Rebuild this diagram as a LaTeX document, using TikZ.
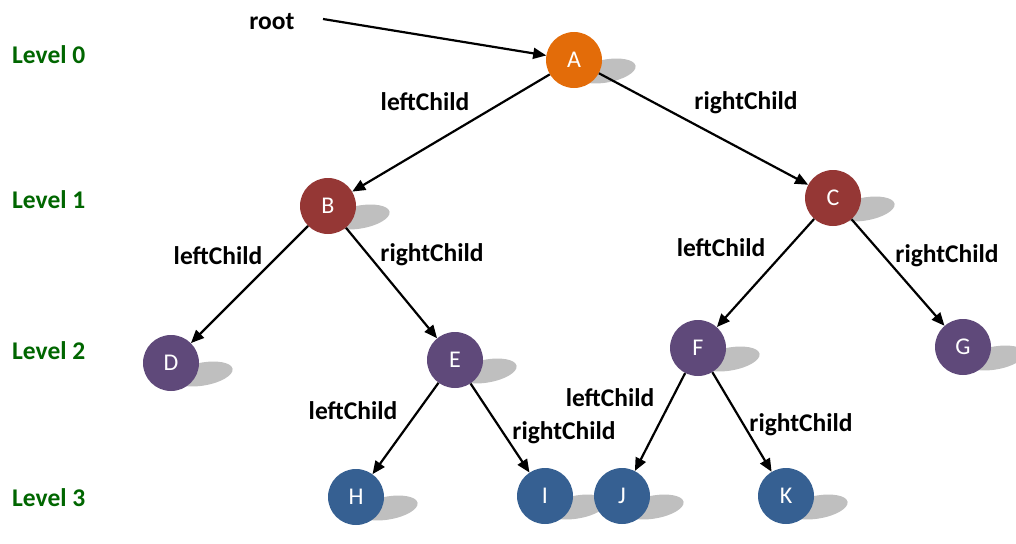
\documentclass[tikz,border=0pt]{standalone}
\usepackage{fontspec}
\setmainfont{Carlito}
\usetikzlibrary{arrows.meta,shapes.geometric,calc}
\definecolor{cOrange}{RGB}{227,108,9}
\definecolor{cRed}{RGB}{149,55,53}
\definecolor{cPurple}{RGB}{95,73,122}
\definecolor{cBlue}{RGB}{54,96,146}
\definecolor{cShadow}{RGB}{191,191,191}
\definecolor{cGreen}{RGB}{0,102,0}
\tikzset{
  tnode/.style={circle,minimum size=56pt,inner sep=0pt,text=white,font=\fontsize{24}{26}\selectfont},
  shad/.style={ellipse,fill=cShadow,minimum width=60pt,minimum height=23pt,inner sep=0pt,rotate=10},
  lbl/.style={font=\fontsize{25.5}{28}\selectfont\bfseries,text=black,inner sep=0pt},
  lvl/.style={font=\fontsize{25.5}{28}\selectfont\bfseries,text=cGreen,inner sep=0pt,anchor=west},
  arr/.style={-{Triangle[length=13pt,width=11pt]},line width=2.2pt,black}
}
\begin{document}
\begin{tikzpicture}[x=1pt,y=-1pt]
\useasboundingbox (0,0) rectangle (1016,543);
% shadows
\foreach \nx/\ny in {574/60,328/206,833/198,171/363,455/360,698/348,963/347,356/497,545/496,622/496,786/496}{
  \node[shad] at (\nx+32,\ny+11) {};
}
% nodes
\node[tnode,fill=cOrange] (A) at (574,60) {A};
\node[tnode,fill=cRed] (B) at (328,206) {B};
\node[tnode,fill=cRed] (C) at (833,198) {C};
\node[tnode,fill=cPurple] (D) at (171,363) {D};
\node[tnode,fill=cPurple] (E) at (455,360) {E};
\node[tnode,fill=cPurple] (F) at (698,348) {F};
\node[tnode,fill=cPurple] (G) at (963,347) {G};
\node[tnode,fill=cBlue] (H) at (356,497) {H};
\node[tnode,fill=cBlue] (I) at (545,496) {I};
\node[tnode,fill=cBlue] (J) at (622,496) {J};
\node[tnode,fill=cBlue] (K) at (786,496) {K};
% root
\node[lbl] (root) at (272,22) {root};
\coordinate (rs) at (323,19);
\draw[arr] (rs) -- (A);
% edges
\draw[arr] (A) -- (B);
\draw[arr] (A) -- (C);
\draw[arr] (B) -- (D);
\draw[arr] (B) -- (E);
\draw[arr] (C) -- (F);
\draw[arr] (C) -- (G);
\draw[arr] (E) -- (H);
\draw[arr] (E) -- (I);
\draw[arr] (F) -- (J);
\draw[arr] (F) -- (K);
% edge labels
\node[lbl] (l1) at (425,102) {leftChild};
\node[lbl] (l2) at (746,103) {rightChild};
\node[lbl] (l3) at (218,256) {leftChild};
\node[lbl] (l4) at (432,255) {rightChild};
\node[lbl] (l5) at (721,248) {leftChild};
\node[lbl] (l6) at (947,256) {rightChild};
\node[lbl] (l7) at (353,411) {leftChild};
\node[lbl] (l8) at (564,433) {rightChild};
\node[lbl] (l9) at (610,398) {leftChild};
\node[lbl] (l10) at (801,425) {rightChild};
% levels
\node[lvl] (v0) at (12,55) {Level 0};
\node[lvl] (v1) at (12,200) {Level 1};
\node[lvl] (v2) at (12,351) {Level 2};
\node[lvl] (v3) at (12,498) {Level 3};
\end{tikzpicture}
\end{document}
